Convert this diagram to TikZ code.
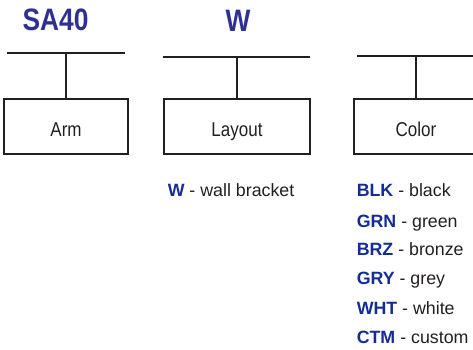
\documentclass[tikz,border=0pt]{standalone}
\usepackage{fontspec}
\setmainfont{Liberation Sans}
\newfontfamily\narrowfont[FakeStretch=0.85]{Liberation Sans}
\definecolor{titleblue}{RGB}{46,49,146}
\definecolor{codeblue}{RGB}{20,45,150}
\definecolor{txtgray}{RGB}{35,31,32}
\begin{document}
\begin{tikzpicture}[x=1pt, y=-1pt, line width=1.5pt, color=txtgray,
  partbox/.style={draw, minimum height=55pt, inner sep=0pt, text height=19pt, text depth=0pt, font=\narrowfont\fontsize{20}{24}\selectfont},
  title/.style={anchor=base, text=titleblue, font=\narrowfont\bfseries\fontsize{31}{36}\selectfont},
  opt/.style={anchor=base west, inner sep=0pt, font=\fontsize{17.8}{21}\selectfont}]
\clip (0,0) rectangle (473,350);
\node[title] (tid0) at (55.5,31){SA40};
\node[title] (tid1) at (238,32){W};
\node[partbox, minimum width=124pt] (box0) at (66,126.5){Arm};
\node[partbox, minimum width=146pt] (box1) at (237,126.5){Layout};
\node[partbox, minimum width=124pt] (box2) at (416,126.5){Color};
\coordinate (bar0l) at (7,53);
\coordinate (bar0r) at (125,53);
\coordinate (bar0) at (66,53);
\coordinate (bar1l) at (163,57);
\coordinate (bar1r) at (310,57);
\coordinate (bar1) at (237,57);
\coordinate (bar2l) at (357,56);
\coordinate (bar2r) at (480,56);
\coordinate (bar2) at (416,56);
\draw[](bar0l) -- (bar0r);
\draw[](bar0) -- (box0.north);
\draw[](bar1l) -- (bar1r);
\draw[](bar1) -- (box1.north);
\draw[](bar2l) -- (bar2r);
\draw[](bar2) -- (box2.north);
\node[opt] (opt0) at (167,196){\textcolor{codeblue}{\bfseries W} - wall bracket};
\node[opt] (opt1) at (356,196){\textcolor{codeblue}{\bfseries BLK} - black};
\node[opt] (opt2) at (356,227){\textcolor{codeblue}{\bfseries GRN} - green};
\node[opt] (opt3) at (356,255){\textcolor{codeblue}{\bfseries BRZ} - bronze};
\node[opt] (opt4) at (356,284){\textcolor{codeblue}{\bfseries GRY} - grey};
\node[opt] (opt5) at (356,314){\textcolor{codeblue}{\bfseries WHT} - white};
\node[opt] (opt6) at (356,343){\textcolor{codeblue}{\bfseries CTM} - custom};
\end{tikzpicture}
\end{document}
